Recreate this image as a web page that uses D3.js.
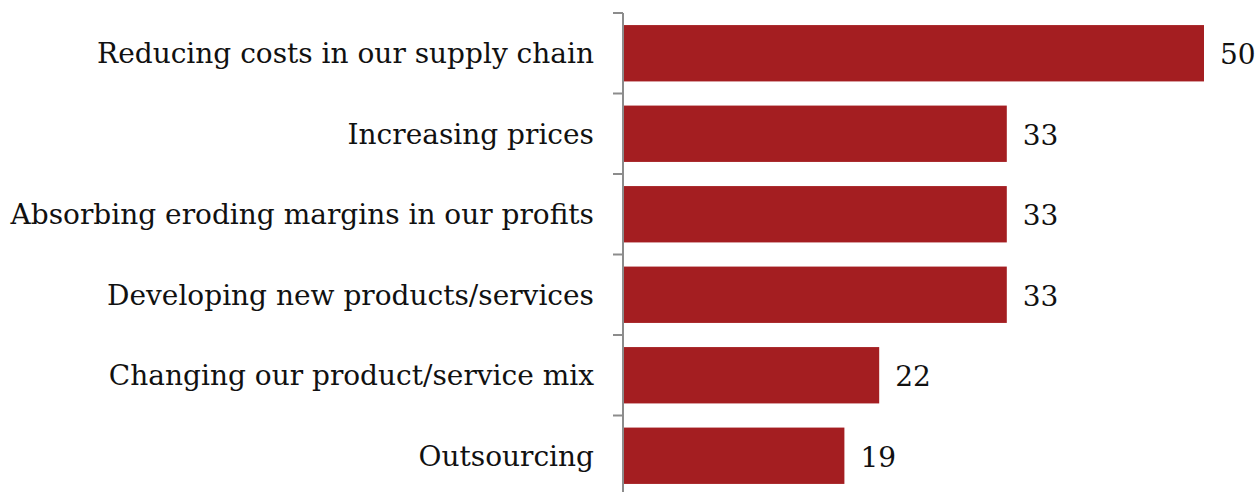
<!DOCTYPE html>
<html>
<head>
<meta charset="utf-8">
<script src="https://cdn.jsdelivr.net/npm/d3@7"></script>
<style>
  body { margin: 0; background: #fff; }
  text { font-family: "DejaVu Serif", serif; fill: #111; }
</style>
</head>
<body>
<div id="chart"></div>
<script>
let categories = [
  "Reducing costs in our supply chain",
  "Increasing prices",
  "Absorbing eroding margins in our profits",
  "Developing new products/services",
  "Changing our product/service mix",
  "Outsourcing"
];
let values = [50, 33, 33, 33, 22, 19];

let width = 1259, height = 492;
let axisX = 623;

let svg = d3.select("#chart").append("svg")
  .attr("width", width)
  .attr("height", height);

let x = d3.scaleLinear().domain([0, 50]).range([axisX + 1, 1204]);
let y = d3.scaleBand().domain(categories).range([13, 496])
  .paddingInner(0.3).paddingOuter(0.15);

let data = categories.map((c, i) => ({ name: c, value: values[i] }));

svg.selectAll("rect.bar").data(data).enter().append("rect")
  .attr("class", "bar")
  .attr("x", x(0))
  .attr("y", d => y(d.name))
  .attr("width", d => x(d.value) - x(0))
  .attr("height", y.bandwidth())
  .attr("fill", "#a41e21");

// axis line + ticks at band boundaries
let step = y.step();
let start = y.range()[0];
svg.append("line")
  .attr("x1", axisX).attr("x2", axisX)
  .attr("y1", start).attr("y2", height)
  .attr("stroke", "#8c8c8c").attr("stroke-width", 2);

svg.selectAll("line.tick").data(d3.range(categories.length + 1)).enter().append("line")
  .attr("class", "tick")
  .attr("x1", axisX - 10).attr("x2", axisX)
  .attr("y1", k => start + k * step).attr("y2", k => start + k * step)
  .attr("stroke", "#8c8c8c").attr("stroke-width", 2);

svg.selectAll("text.cat").data(data).enter().append("text")
  .attr("class", "cat")
  .attr("x", axisX - 29)
  .attr("y", d => y(d.name) + y.bandwidth() / 2)
  .attr("dy", "0.35em")
  .attr("text-anchor", "end")
  .style("font-size", "28px")
  .text(d => d.name);

svg.selectAll("text.val").data(data).enter().append("text")
  .attr("class", "val")
  .attr("x", d => x(d.value) + 16)
  .attr("y", d => y(d.name) + y.bandwidth() / 2)
  .attr("dy", "0.4em")
  .style("font-size", "28px")
  .text(d => d.value);
</script>
</body>
</html>
